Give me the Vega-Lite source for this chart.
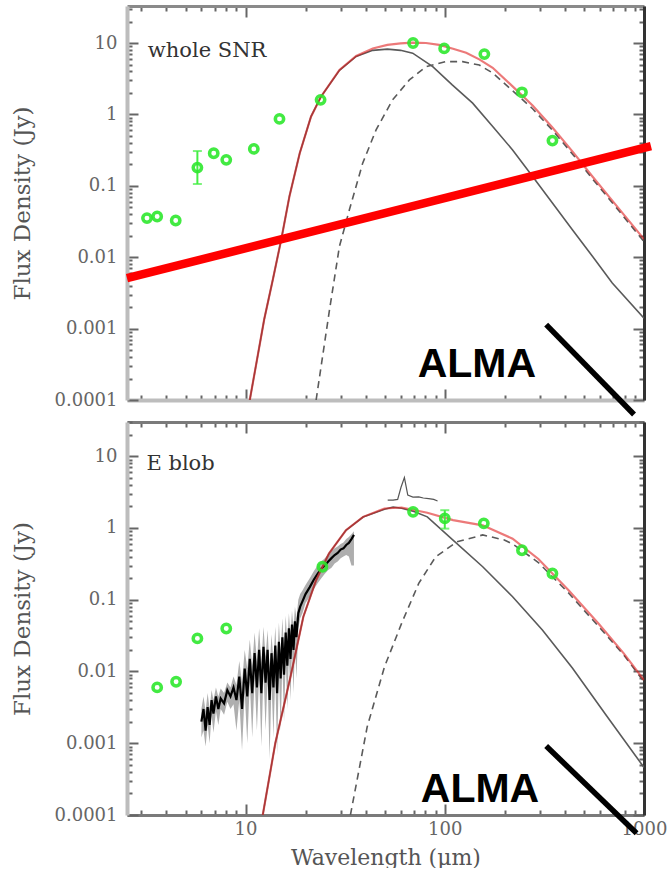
{
  "$schema": "https://vega.github.io/schema/vega-lite/v6.json",
  "background": "white",
  "padding": {"left": 11, "top": 5, "right": 0, "bottom": 0},
  "bounds": "flush",
  "spacing": 22,
  "config": {
    "view": {"stroke": null},
    "axis": {
      "labelFont": "DejaVu Serif",
      "labelColor": "#666",
      "titleFont": "DejaVu Serif",
      "titleFontSize": 21,
      "titleFontWeight": "normal",
      "titleColor": "#555",
      "tickColor": "#666",
      "tickWidth": 2,
      "domainWidth": 3,
      "grid": false,
      "labelOverlap": false,
      "labelFlush": false,
      "labelBound": false
    }
  },
  "datasets": {
    "curves": [
      {"p": "top", "s": "warm", "wl": 10.5, "f": 0.0001}, {"p": "top", "s": "warm", "wl": 12.4, "f": 0.00134}, {"p": "top", "s": "warm", "wl": 13.7, "f": 0.00484}, {"p": "top", "s": "warm", "wl": 15.1, "f": 0.0176}, {"p": "top", "s": "warm", "wl": 16.6, "f": 0.071}, {"p": "top", "s": "warm", "wl": 18.7, "f": 0.286}, {"p": "top", "s": "warm", "wl": 21.3, "f": 0.93}, {"p": "top", "s": "warm", "wl": 23.9, "f": 1.77}, {"p": "top", "s": "warm", "wl": 29.6, "f": 4.15}, {"p": "top", "s": "warm", "wl": 35.9, "f": 6.5}, {"p": "top", "s": "warm", "wl": 43.5, "f": 7.9}, {"p": "top", "s": "warm", "wl": 51.5, "f": 8.2}, {"p": "top", "s": "warm", "wl": 60, "f": 7.9}, {"p": "top", "s": "warm", "wl": 69, "f": 7.2}, {"p": "top", "s": "warm", "wl": 87, "f": 4.67}, {"p": "top", "s": "warm", "wl": 109, "f": 2.59}, {"p": "top", "s": "warm", "wl": 138, "f": 1.44}, {"p": "top", "s": "warm", "wl": 174, "f": 0.676}, {"p": "top", "s": "warm", "wl": 219, "f": 0.318}, {"p": "top", "s": "warm", "wl": 276, "f": 0.135}, {"p": "top", "s": "warm", "wl": 347, "f": 0.0573}, {"p": "top", "s": "warm", "wl": 437, "f": 0.0243}, {"p": "top", "s": "warm", "wl": 551, "f": 0.0103}, {"p": "top", "s": "warm", "wl": 693, "f": 0.00435}, {"p": "top", "s": "warm", "wl": 1000, "f": 0.0014},
      {"p": "top", "s": "cold", "wl": 22.6, "f": 0.0001}, {"p": "top", "s": "cold", "wl": 26.4, "f": 0.00185}, {"p": "top", "s": "cold", "wl": 29.6, "f": 0.0142}, {"p": "top", "s": "cold", "wl": 33.2, "f": 0.0461}, {"p": "top", "s": "cold", "wl": 38.7, "f": 0.207}, {"p": "top", "s": "cold", "wl": 45.2, "f": 0.607}, {"p": "top", "s": "cold", "wl": 54.7, "f": 1.6}, {"p": "top", "s": "cold", "wl": 66.4, "f": 3.04}, {"p": "top", "s": "cold", "wl": 80.5, "f": 4.67}, {"p": "top", "s": "cold", "wl": 101, "f": 5.48}, {"p": "top", "s": "cold", "wl": 123, "f": 5.48}, {"p": "top", "s": "cold", "wl": 149, "f": 4.92}, {"p": "top", "s": "cold", "wl": 174, "f": 3.8}, {"p": "top", "s": "cold", "wl": 219, "f": 2.15}, {"p": "top", "s": "cold", "wl": 276, "f": 1.2}, {"p": "top", "s": "cold", "wl": 347, "f": 0.6}, {"p": "top", "s": "cold", "wl": 437, "f": 0.28}, {"p": "top", "s": "cold", "wl": 551, "f": 0.125}, {"p": "top", "s": "cold", "wl": 693, "f": 0.058}, {"p": "top", "s": "cold", "wl": 1000, "f": 0.0165},
      {"p": "top", "s": "total", "wl": 10.5, "f": 0.0001}, {"p": "top", "s": "total", "wl": 12.4, "f": 0.00134}, {"p": "top", "s": "total", "wl": 13.7, "f": 0.00484}, {"p": "top", "s": "total", "wl": 15.1, "f": 0.0176}, {"p": "top", "s": "total", "wl": 16.6, "f": 0.071}, {"p": "top", "s": "total", "wl": 18.7, "f": 0.286}, {"p": "top", "s": "total", "wl": 21.3, "f": 0.93}, {"p": "top", "s": "total", "wl": 23.9, "f": 1.77}, {"p": "top", "s": "total", "wl": 29.6, "f": 4.19}, {"p": "top", "s": "total", "wl": 35.9, "f": 6.6}, {"p": "top", "s": "total", "wl": 43.5, "f": 8.4}, {"p": "top", "s": "total", "wl": 51.5, "f": 9.4}, {"p": "top", "s": "total", "wl": 60, "f": 9.9}, {"p": "top", "s": "total", "wl": 69, "f": 10.1}, {"p": "top", "s": "total", "wl": 80.5, "f": 10.0}, {"p": "top", "s": "total", "wl": 93.7, "f": 9.4}, {"p": "top", "s": "total", "wl": 110, "f": 8.3}, {"p": "top", "s": "total", "wl": 128, "f": 7.3}, {"p": "top", "s": "total", "wl": 149, "f": 5.9}, {"p": "top", "s": "total", "wl": 174, "f": 4.5}, {"p": "top", "s": "total", "wl": 219, "f": 2.47}, {"p": "top", "s": "total", "wl": 276, "f": 1.335}, {"p": "top", "s": "total", "wl": 347, "f": 0.657}, {"p": "top", "s": "total", "wl": 437, "f": 0.304}, {"p": "top", "s": "total", "wl": 551, "f": 0.135}, {"p": "top", "s": "total", "wl": 693, "f": 0.062}, {"p": "top", "s": "total", "wl": 1000, "f": 0.0179},
      {"p": "bot", "s": "warm", "wl": 12.2, "f": 0.0001}, {"p": "bot", "s": "warm", "wl": 14.1, "f": 0.001}, {"p": "bot", "s": "warm", "wl": 16.8, "f": 0.0084}, {"p": "bot", "s": "warm", "wl": 19.5, "f": 0.058}, {"p": "bot", "s": "warm", "wl": 22.6, "f": 0.187}, {"p": "bot", "s": "warm", "wl": 26.2, "f": 0.44}, {"p": "bot", "s": "warm", "wl": 31.9, "f": 0.93}, {"p": "bot", "s": "warm", "wl": 38.9, "f": 1.42}, {"p": "bot", "s": "warm", "wl": 49.8, "f": 1.83}, {"p": "bot", "s": "warm", "wl": 55, "f": 1.95}, {"p": "bot", "s": "warm", "wl": 60.7, "f": 1.88}, {"p": "bot", "s": "warm", "wl": 70, "f": 1.7}, {"p": "bot", "s": "warm", "wl": 81.7, "f": 1.43}, {"p": "bot", "s": "warm", "wl": 110, "f": 0.676}, {"p": "bot", "s": "warm", "wl": 155, "f": 0.288}, {"p": "bot", "s": "warm", "wl": 219, "f": 0.11}, {"p": "bot", "s": "warm", "wl": 309, "f": 0.0378}, {"p": "bot", "s": "warm", "wl": 437, "f": 0.0112}, {"p": "bot", "s": "warm", "wl": 650, "f": 0.0024}, {"p": "bot", "s": "warm", "wl": 1000, "f": 0.00046},
      {"p": "bot", "s": "cold", "wl": 33.6, "f": 0.0001}, {"p": "bot", "s": "cold", "wl": 40.8, "f": 0.0017}, {"p": "bot", "s": "cold", "wl": 49.8, "f": 0.0116}, {"p": "bot", "s": "cold", "wl": 60.7, "f": 0.0468}, {"p": "bot", "s": "cold", "wl": 74, "f": 0.169}, {"p": "bot", "s": "cold", "wl": 90, "f": 0.396}, {"p": "bot", "s": "cold", "wl": 115, "f": 0.64}, {"p": "bot", "s": "cold", "wl": 155, "f": 0.8}, {"p": "bot", "s": "cold", "wl": 199, "f": 0.68}, {"p": "bot", "s": "cold", "wl": 219, "f": 0.6}, {"p": "bot", "s": "cold", "wl": 295, "f": 0.33}, {"p": "bot", "s": "cold", "wl": 417, "f": 0.125}, {"p": "bot", "s": "cold", "wl": 589, "f": 0.043}, {"p": "bot", "s": "cold", "wl": 791, "f": 0.017}, {"p": "bot", "s": "cold", "wl": 1000, "f": 0.0072},
      {"p": "bot", "s": "total", "wl": 12.2, "f": 0.0001}, {"p": "bot", "s": "total", "wl": 14.1, "f": 0.001}, {"p": "bot", "s": "total", "wl": 16.8, "f": 0.0084}, {"p": "bot", "s": "total", "wl": 19.5, "f": 0.058}, {"p": "bot", "s": "total", "wl": 22.6, "f": 0.187}, {"p": "bot", "s": "total", "wl": 26.2, "f": 0.44}, {"p": "bot", "s": "total", "wl": 31.9, "f": 0.93}, {"p": "bot", "s": "total", "wl": 38.9, "f": 1.43}, {"p": "bot", "s": "total", "wl": 49.8, "f": 1.87}, {"p": "bot", "s": "total", "wl": 60.7, "f": 1.93}, {"p": "bot", "s": "total", "wl": 81.7, "f": 1.63}, {"p": "bot", "s": "total", "wl": 110, "f": 1.29}, {"p": "bot", "s": "total", "wl": 155, "f": 1.09}, {"p": "bot", "s": "total", "wl": 219, "f": 0.71}, {"p": "bot", "s": "total", "wl": 295, "f": 0.37}, {"p": "bot", "s": "total", "wl": 417, "f": 0.137}, {"p": "bot", "s": "total", "wl": 589, "f": 0.047}, {"p": "bot", "s": "total", "wl": 791, "f": 0.0179}, {"p": "bot", "s": "total", "wl": 1000, "f": 0.0076}
    ],
    "phot": [
      {"p": "top", "wl": 3.2, "f": 0.0353}, {"p": "top", "wl": 3.6, "f": 0.0372}, {"p": "top", "wl": 4.46, "f": 0.0327}, {"p": "top", "wl": 5.73, "f": 0.18}, {"p": "top", "wl": 6.92, "f": 0.286}, {"p": "top", "wl": 8.0, "f": 0.231}, {"p": "top", "wl": 11.0, "f": 0.329}, {"p": "top", "wl": 14.8, "f": 0.865}, {"p": "top", "wl": 23.8, "f": 1.6}, {"p": "top", "wl": 69.3, "f": 10.0}, {"p": "top", "wl": 99.3, "f": 8.4}, {"p": "top", "wl": 158, "f": 7.0}, {"p": "top", "wl": 244, "f": 2.04}, {"p": "top", "wl": 347, "f": 0.43},
      {"p": "bot", "wl": 3.6, "f": 0.006}, {"p": "bot", "wl": 4.48, "f": 0.0072}, {"p": "bot", "wl": 5.73, "f": 0.0289}, {"p": "bot", "wl": 8.0, "f": 0.0398}, {"p": "bot", "wl": 24.3, "f": 0.288}, {"p": "bot", "wl": 69.3, "f": 1.68}, {"p": "bot", "wl": 100, "f": 1.36}, {"p": "bot", "wl": 157, "f": 1.16}, {"p": "bot", "wl": 244, "f": 0.49}, {"p": "bot", "wl": 347, "f": 0.232}
    ],
    "errs": [
      {"p": "top", "wl": 5.73, "lo": 0.106, "hi": 0.307},
      {"p": "bot", "wl": 100, "lo": 0.98, "hi": 1.77}
    ],
    "powerlaw": [
      {"wl": 2.54, "f": 0.00508}, {"wl": 1084, "f": 0.3606}
    ],
    "alma": [
      {"p": "top", "wl": 322.8, "f": 0.001138}, {"p": "top", "wl": 891, "f": 0.0000627},
      {"p": "bot", "wl": 322.8, "f": 0.000914}, {"p": "bot", "wl": 918, "f": 0.0000556}
    ],
    "labels": [
      {"p": "top", "kind": "name", "wl": 3.23, "f": 6.37, "text": "whole SNR"},
      {"p": "bot", "kind": "name", "wl": 3.18, "f": 6.38, "text": "E blob"},
      {"p": "top", "kind": "alma", "wl": 73.1, "f": 0.000211, "text": "ALMA"},
      {"p": "bot", "kind": "alma", "wl": 75.8, "f": 0.000153, "text": "ALMA"}
    ],
    "pacs": [
      {"wl": 51.7, "f": 2.44}, {"wl": 55, "f": 2.45}, {"wl": 58, "f": 2.5}, {"wl": 60.3, "f": 3.7}, {"wl": 62.7, "f": 5.05}, {"wl": 65.2, "f": 2.87}, {"wl": 69.2, "f": 2.7}, {"wl": 74, "f": 2.72}, {"wl": 78, "f": 2.62}, {"wl": 83, "f": 2.57}, {"wl": 88, "f": 2.5}, {"wl": 92, "f": 2.38}
    ],
    "irs": [
      {"wl": 6.0, "f": 0.002, "lo": 0.0012, "hi": 0.003}, {"wl": 6.15, "f": 0.003, "lo": 0.0015, "hi": 0.0045}, {"wl": 6.3, "f": 0.0015, "lo": 0.0009, "hi": 0.0028}, {"wl": 6.45, "f": 0.0032, "lo": 0.0018, "hi": 0.005}, {"wl": 6.6, "f": 0.0018, "lo": 0.001, "hi": 0.003}, {"wl": 6.75, "f": 0.004, "lo": 0.0025, "hi": 0.0055}, {"wl": 6.9, "f": 0.0026, "lo": 0.0014, "hi": 0.004}, {"wl": 7.1, "f": 0.0045, "lo": 0.0028, "hi": 0.006}, {"wl": 7.3, "f": 0.003, "lo": 0.0018, "hi": 0.0045}, {"wl": 7.5, "f": 0.0042, "lo": 0.003, "hi": 0.0058}, {"wl": 7.8, "f": 0.0036, "lo": 0.0025, "hi": 0.005}, {"wl": 8.1, "f": 0.0055, "lo": 0.0038, "hi": 0.007}, {"wl": 8.4, "f": 0.0045, "lo": 0.003, "hi": 0.006}, {"wl": 8.7, "f": 0.006, "lo": 0.0035, "hi": 0.0085}, {"wl": 9.0, "f": 0.004, "lo": 0.0015, "hi": 0.0065}, {"wl": 9.3, "f": 0.0085, "lo": 0.004, "hi": 0.014}, {"wl": 9.6, "f": 0.003, "lo": 0.0008, "hi": 0.007}, {"wl": 9.9, "f": 0.011, "lo": 0.005, "hi": 0.02}, {"wl": 10.2, "f": 0.0045, "lo": 0.001, "hi": 0.011}, {"wl": 10.5, "f": 0.015, "lo": 0.007, "hi": 0.028}, {"wl": 10.8, "f": 0.005, "lo": 0.0012, "hi": 0.012}, {"wl": 11.1, "f": 0.018, "lo": 0.008, "hi": 0.035}, {"wl": 11.4, "f": 0.006, "lo": 0.0015, "hi": 0.014}, {"wl": 11.7, "f": 0.02, "lo": 0.009, "hi": 0.04}, {"wl": 12.0, "f": 0.005, "lo": 0.0009, "hi": 0.013}, {"wl": 12.3, "f": 0.022, "lo": 0.01, "hi": 0.042}, {"wl": 12.6, "f": 0.007, "lo": 0.0015, "hi": 0.016}, {"wl": 12.9, "f": 0.02, "lo": 0.008, "hi": 0.038}, {"wl": 13.2, "f": 0.004, "lo": 0.0006, "hi": 0.011}, {"wl": 13.5, "f": 0.018, "lo": 0.007, "hi": 0.033}, {"wl": 13.8, "f": 0.006, "lo": 0.0012, "hi": 0.014}, {"wl": 14.1, "f": 0.023, "lo": 0.009, "hi": 0.042}, {"wl": 14.4, "f": 0.005, "lo": 0.0007, "hi": 0.013}, {"wl": 14.7, "f": 0.026, "lo": 0.011, "hi": 0.048}, {"wl": 15.0, "f": 0.008, "lo": 0.0015, "hi": 0.018}, {"wl": 15.3, "f": 0.03, "lo": 0.013, "hi": 0.055}, {"wl": 15.6, "f": 0.009, "lo": 0.002, "hi": 0.02}, {"wl": 15.9, "f": 0.035, "lo": 0.015, "hi": 0.06}, {"wl": 16.2, "f": 0.012, "lo": 0.003, "hi": 0.026}, {"wl": 16.5, "f": 0.04, "lo": 0.018, "hi": 0.065}, {"wl": 16.8, "f": 0.015, "lo": 0.004, "hi": 0.032}, {"wl": 17.1, "f": 0.045, "lo": 0.02, "hi": 0.07}, {"wl": 17.4, "f": 0.02, "lo": 0.005, "hi": 0.04}, {"wl": 17.7, "f": 0.05, "lo": 0.025, "hi": 0.08}, {"wl": 18.0, "f": 0.03, "lo": 0.008, "hi": 0.055}, {"wl": 18.4, "f": 0.065, "lo": 0.04, "hi": 0.1}, {"wl": 18.8, "f": 0.08, "lo": 0.055, "hi": 0.12}, {"wl": 19.3, "f": 0.095, "lo": 0.065, "hi": 0.135}, {"wl": 20.0, "f": 0.12, "lo": 0.09, "hi": 0.16}, {"wl": 21.0, "f": 0.15, "lo": 0.11, "hi": 0.2}, {"wl": 22.0, "f": 0.19, "lo": 0.14, "hi": 0.25}, {"wl": 23.0, "f": 0.23, "lo": 0.17, "hi": 0.3}, {"wl": 24.0, "f": 0.27, "lo": 0.2, "hi": 0.34}, {"wl": 25.0, "f": 0.3, "lo": 0.23, "hi": 0.38}, {"wl": 26.0, "f": 0.34, "lo": 0.26, "hi": 0.43}, {"wl": 27.0, "f": 0.38, "lo": 0.28, "hi": 0.48}, {"wl": 28.0, "f": 0.42, "lo": 0.32, "hi": 0.52}, {"wl": 29.0, "f": 0.45, "lo": 0.34, "hi": 0.55}, {"wl": 30.0, "f": 0.5, "lo": 0.38, "hi": 0.6}, {"wl": 31.0, "f": 0.52, "lo": 0.4, "hi": 0.63}, {"wl": 32.0, "f": 0.58, "lo": 0.42, "hi": 0.7}, {"wl": 33.0, "f": 0.62, "lo": 0.4, "hi": 0.75}, {"wl": 34.0, "f": 0.7, "lo": 0.3, "hi": 0.82}, {"wl": 35.0, "f": 0.8, "lo": 0.3, "hi": 0.9}
    ]
  },
  "vconcat": [
    {
      "width": 517,
      "height": 394,
      "resolve": {"axis": {"x": "independent", "y": "independent"}},
      "encoding": {
        "x": {"field": "wl", "type": "quantitative", "scale": {"type": "log", "domain": [2.54, 1000], "nice": false}, "axis": null},
        "y": {"field": "f", "type": "quantitative", "scale": {"type": "log", "domain": [0.0001, 33], "nice": false}, "axis": null}
      },
      "layer": [
        {
          "data": {"name": "curves"},
          "transform": [{"filter": "datum.p == 'top' && datum.s == 'warm'"}],
          "mark": {"type": "line", "color": "#5a5a5a", "strokeWidth": 1.6, "clip": true},
          "encoding": {
            "x": {"field": "wl", "type": "quantitative", "scale": {"type": "log", "domain": [2.54, 1000], "nice": false},
              "axis": {"orient": "bottom", "values": [3, 4, 5, 6, 7, 8, 9, 10, 20, 30, 40, 50, 60, 70, 80, 90, 100, 200, 300, 400, 500, 600, 700, 800, 900, 1000], "labels": false, "title": null, "domainColor": "#bdbdbd", "domainWidth": 4,
                "tickSize": {"condition": {"test": "abs(log(datum.value)/LN10 - round(log(datum.value)/LN10)) < 0.001", "value": -11}, "value": -5}}},
            "y": {"field": "f", "type": "quantitative", "scale": {"type": "log", "domain": [0.0001, 33], "nice": false},
              "axis": {"orient": "left", "values": [0.0001, 0.0002, 0.0003, 0.0004, 0.0005, 0.0006, 0.0007, 0.0008, 0.0009, 0.001, 0.002, 0.003, 0.004, 0.005, 0.006, 0.007, 0.008, 0.009, 0.01, 0.02, 0.03, 0.04, 0.05, 0.06, 0.07, 0.08, 0.09, 0.1, 0.2, 0.3, 0.4, 0.5, 0.6, 0.7, 0.8, 0.9, 1, 2, 3, 4, 5, 6, 7, 8, 9, 10, 20, 30],
                "format": "~g", "labelExpr": "abs(log(datum.value)/LN10 - round(log(datum.value)/LN10)) < 0.001 ? datum.label : ''",
                "labelFontSize": {"condition": {"test": "abs(log(datum.value)/LN10 - round(log(datum.value)/LN10)) < 0.001", "value": 18}, "value": 0},
                "title": "Flux Density (Jy)", "titleFontSize": 23, "titlePadding": 20, "labelPadding": 21, "domainColor": "#bdbdbd", "domainWidth": 4,
                "tickSize": {"condition": {"test": "abs(log(datum.value)/LN10 - round(log(datum.value)/LN10)) < 0.001", "value": -11}, "value": -5}}}
          }
        },
        {
          "data": {"name": "curves"},
          "transform": [{"filter": "datum.p == 'top' && datum.s == 'cold'"}],
          "mark": {"type": "line", "color": "#5a5a5a", "strokeWidth": 1.6, "strokeDash": [7, 5], "clip": true},
          "encoding": {
            "x": {"field": "wl", "type": "quantitative", "scale": {"type": "log", "domain": [2.54, 1000], "nice": false},
              "axis": {"orient": "top", "values": [3, 4, 5, 6, 7, 8, 9, 10, 20, 30, 40, 50, 60, 70, 80, 90, 100, 200, 300, 400, 500, 600, 700, 800, 900, 1000], "labels": false, "title": null, "domainColor": "#8a8a8a", "domainWidth": 3,
                "tickSize": {"condition": {"test": "abs(log(datum.value)/LN10 - round(log(datum.value)/LN10)) < 0.001", "value": -11}, "value": -5}}},
            "y": {"field": "f", "type": "quantitative", "scale": {"type": "log", "domain": [0.0001, 33], "nice": false},
              "axis": {"orient": "right", "values": [0.0001, 0.0002, 0.0003, 0.0004, 0.0005, 0.0006, 0.0007, 0.0008, 0.0009, 0.001, 0.002, 0.003, 0.004, 0.005, 0.006, 0.007, 0.008, 0.009, 0.01, 0.02, 0.03, 0.04, 0.05, 0.06, 0.07, 0.08, 0.09, 0.1, 0.2, 0.3, 0.4, 0.5, 0.6, 0.7, 0.8, 0.9, 1, 2, 3, 4, 5, 6, 7, 8, 9, 10, 20, 30],
                "labels": false, "title": null, "domainColor": "#333", "domainWidth": 3,
                "tickSize": {"condition": {"test": "abs(log(datum.value)/LN10 - round(log(datum.value)/LN10)) < 0.001", "value": -11}, "value": -5}}}
          }
        },
        {
          "data": {"name": "curves"},
          "transform": [{"filter": "datum.p == 'top' && datum.s == 'total'"}],
          "mark": {"type": "line", "color": "#e02020", "opacity": 0.6, "strokeWidth": 2.2, "clip": true}
        },
        {
          "data": {"name": "powerlaw"},
          "mark": {"type": "line", "color": "#ff0000", "strokeWidth": 8.5, "strokeCap": "butt", "clip": false}
        },
        {
          "data": {"name": "errs"},
          "transform": [{"filter": "datum.p == 'top'"}],
          "mark": {"type": "errorbar", "color": "#44ee44", "thickness": 2, "ticks": {"size": 9, "thickness": 2}},
          "encoding": {
            "y": {"field": "lo", "type": "quantitative", "scale": {"type": "log", "domain": [0.0001, 33], "nice": false}},
            "y2": {"field": "hi"}
          }
        },
        {
          "data": {"name": "phot"},
          "transform": [{"filter": "datum.p == 'top'"}],
          "mark": {"type": "point", "filled": false, "shape": "circle", "color": "#2ee82e", "strokeWidth": 3.5, "size": 70, "opacity": 0.9}
        },
        {
          "data": {"name": "alma"},
          "transform": [{"filter": "datum.p == 'top'"}],
          "mark": {"type": "line", "color": "#000000", "strokeWidth": 5.5, "strokeCap": "butt", "clip": false}
        },
        {
          "data": {"name": "labels"},
          "transform": [{"filter": "datum.p == 'top' && datum.kind == 'alma'"}],
          "mark": {"type": "text", "align": "left", "baseline": "alphabetic", "font": "Liberation Sans", "fontWeight": "bold", "fontSize": 41, "color": "#000000"},
          "encoding": {"text": {"field": "text"}}
        },
        {
          "data": {"name": "labels"},
          "transform": [{"filter": "datum.p == 'top' && datum.kind == 'name'"}],
          "mark": {"type": "text", "align": "left", "baseline": "alphabetic", "font": "DejaVu Serif", "fontSize": 21, "color": "#333333"},
          "encoding": {"text": {"field": "text"}}
        }
      ]
    },
    {
      "width": 517,
      "height": 393,
      "resolve": {"axis": {"x": "independent", "y": "independent"}},
      "encoding": {
        "x": {"field": "wl", "type": "quantitative", "scale": {"type": "log", "domain": [2.54, 1000], "nice": false}, "axis": null},
        "y": {"field": "f", "type": "quantitative", "scale": {"type": "log", "domain": [0.0001, 30], "nice": false}, "axis": null}
      },
      "layer": [
        {
          "data": {"name": "irs"},
          "mark": {"type": "area", "color": "#9a9a9a", "opacity": 0.8, "clip": true},
          "encoding": {
            "y": {"field": "lo", "type": "quantitative", "scale": {"type": "log", "domain": [0.0001, 30], "nice": false}},
            "y2": {"field": "hi"}
          }
        },
        {
          "data": {"name": "irs"},
          "mark": {"type": "line", "color": "#000000", "strokeWidth": 2.2, "clip": true}
        },
        {
          "data": {"name": "pacs"},
          "mark": {"type": "line", "color": "#555555", "strokeWidth": 1.2, "clip": true}
        },
        {
          "data": {"name": "curves"},
          "transform": [{"filter": "datum.p == 'bot' && datum.s == 'warm'"}],
          "mark": {"type": "line", "color": "#5a5a5a", "strokeWidth": 1.6, "clip": true},
          "encoding": {
            "x": {"field": "wl", "type": "quantitative", "scale": {"type": "log", "domain": [2.54, 1000], "nice": false},
              "axis": {"orient": "bottom", "values": [3, 4, 5, 6, 7, 8, 9, 10, 20, 30, 40, 50, 60, 70, 80, 90, 100, 200, 300, 400, 500, 600, 700, 800, 900, 1000],
                "format": "~g", "labelExpr": "abs(log(datum.value)/LN10 - round(log(datum.value)/LN10)) < 0.001 ? datum.label : ''",
                "labelFontSize": {"condition": {"test": "abs(log(datum.value)/LN10 - round(log(datum.value)/LN10)) < 0.001", "value": 18}, "value": 0},
                "title": "Wavelength (μm)", "titleFontSize": 22, "titlePadding": 9, "labelPadding": 16, "domainColor": "#7a7a7a", "domainWidth": 3,
                "tickSize": {"condition": {"test": "abs(log(datum.value)/LN10 - round(log(datum.value)/LN10)) < 0.001", "value": -11}, "value": -5}}},
            "y": {"field": "f", "type": "quantitative", "scale": {"type": "log", "domain": [0.0001, 30], "nice": false},
              "axis": {"orient": "left", "values": [0.0001, 0.0002, 0.0003, 0.0004, 0.0005, 0.0006, 0.0007, 0.0008, 0.0009, 0.001, 0.002, 0.003, 0.004, 0.005, 0.006, 0.007, 0.008, 0.009, 0.01, 0.02, 0.03, 0.04, 0.05, 0.06, 0.07, 0.08, 0.09, 0.1, 0.2, 0.3, 0.4, 0.5, 0.6, 0.7, 0.8, 0.9, 1, 2, 3, 4, 5, 6, 7, 8, 9, 10, 20, 30],
                "format": "~g", "labelExpr": "abs(log(datum.value)/LN10 - round(log(datum.value)/LN10)) < 0.001 ? datum.label : ''",
                "labelFontSize": {"condition": {"test": "abs(log(datum.value)/LN10 - round(log(datum.value)/LN10)) < 0.001", "value": 18}, "value": 0},
                "title": "Flux Density (Jy)", "titleFontSize": 23, "titlePadding": 20, "labelPadding": 21, "domainColor": "#bdbdbd", "domainWidth": 4,
                "tickSize": {"condition": {"test": "abs(log(datum.value)/LN10 - round(log(datum.value)/LN10)) < 0.001", "value": -11}, "value": -5}}}
          }
        },
        {
          "data": {"name": "curves"},
          "transform": [{"filter": "datum.p == 'bot' && datum.s == 'cold'"}],
          "mark": {"type": "line", "color": "#5a5a5a", "strokeWidth": 1.6, "strokeDash": [7, 5], "clip": true},
          "encoding": {
            "x": {"field": "wl", "type": "quantitative", "scale": {"type": "log", "domain": [2.54, 1000], "nice": false},
              "axis": {"orient": "top", "values": [3, 4, 5, 6, 7, 8, 9, 10, 20, 30, 40, 50, 60, 70, 80, 90, 100, 200, 300, 400, 500, 600, 700, 800, 900, 1000], "labels": false, "title": null, "domainColor": "#7a7a7a", "domainWidth": 3,
                "tickSize": {"condition": {"test": "abs(log(datum.value)/LN10 - round(log(datum.value)/LN10)) < 0.001", "value": -11}, "value": -5}}},
            "y": {"field": "f", "type": "quantitative", "scale": {"type": "log", "domain": [0.0001, 30], "nice": false},
              "axis": {"orient": "right", "values": [0.0001, 0.0002, 0.0003, 0.0004, 0.0005, 0.0006, 0.0007, 0.0008, 0.0009, 0.001, 0.002, 0.003, 0.004, 0.005, 0.006, 0.007, 0.008, 0.009, 0.01, 0.02, 0.03, 0.04, 0.05, 0.06, 0.07, 0.08, 0.09, 0.1, 0.2, 0.3, 0.4, 0.5, 0.6, 0.7, 0.8, 0.9, 1, 2, 3, 4, 5, 6, 7, 8, 9, 10, 20, 30],
                "labels": false, "title": null, "domainColor": "#333", "domainWidth": 3,
                "tickSize": {"condition": {"test": "abs(log(datum.value)/LN10 - round(log(datum.value)/LN10)) < 0.001", "value": -11}, "value": -5}}}
          }
        },
        {
          "data": {"name": "curves"},
          "transform": [{"filter": "datum.p == 'bot' && datum.s == 'total'"}],
          "mark": {"type": "line", "color": "#e02020", "opacity": 0.6, "strokeWidth": 2.2, "clip": true}
        },
        {
          "data": {"name": "errs"},
          "transform": [{"filter": "datum.p == 'bot'"}],
          "mark": {"type": "errorbar", "color": "#44ee44", "thickness": 2, "ticks": {"size": 9, "thickness": 2}},
          "encoding": {
            "y": {"field": "lo", "type": "quantitative", "scale": {"type": "log", "domain": [0.0001, 30], "nice": false}},
            "y2": {"field": "hi"}
          }
        },
        {
          "data": {"name": "phot"},
          "transform": [{"filter": "datum.p == 'bot'"}],
          "mark": {"type": "point", "filled": false, "shape": "circle", "color": "#2ee82e", "strokeWidth": 3.5, "size": 70, "opacity": 0.9}
        },
        {
          "data": {"name": "alma"},
          "transform": [{"filter": "datum.p == 'bot'"}],
          "mark": {"type": "line", "color": "#000000", "strokeWidth": 5.5, "strokeCap": "butt", "clip": false}
        },
        {
          "data": {"name": "labels"},
          "transform": [{"filter": "datum.p == 'bot' && datum.kind == 'alma'"}],
          "mark": {"type": "text", "align": "left", "baseline": "alphabetic", "font": "Liberation Sans", "fontWeight": "bold", "fontSize": 41, "color": "#000000"},
          "encoding": {"text": {"field": "text"}}
        },
        {
          "data": {"name": "labels"},
          "transform": [{"filter": "datum.p == 'bot' && datum.kind == 'name'"}],
          "mark": {"type": "text", "align": "left", "baseline": "alphabetic", "font": "DejaVu Serif", "fontSize": 21, "color": "#333333"},
          "encoding": {"text": {"field": "text"}}
        }
      ]
    }
  ]
}
